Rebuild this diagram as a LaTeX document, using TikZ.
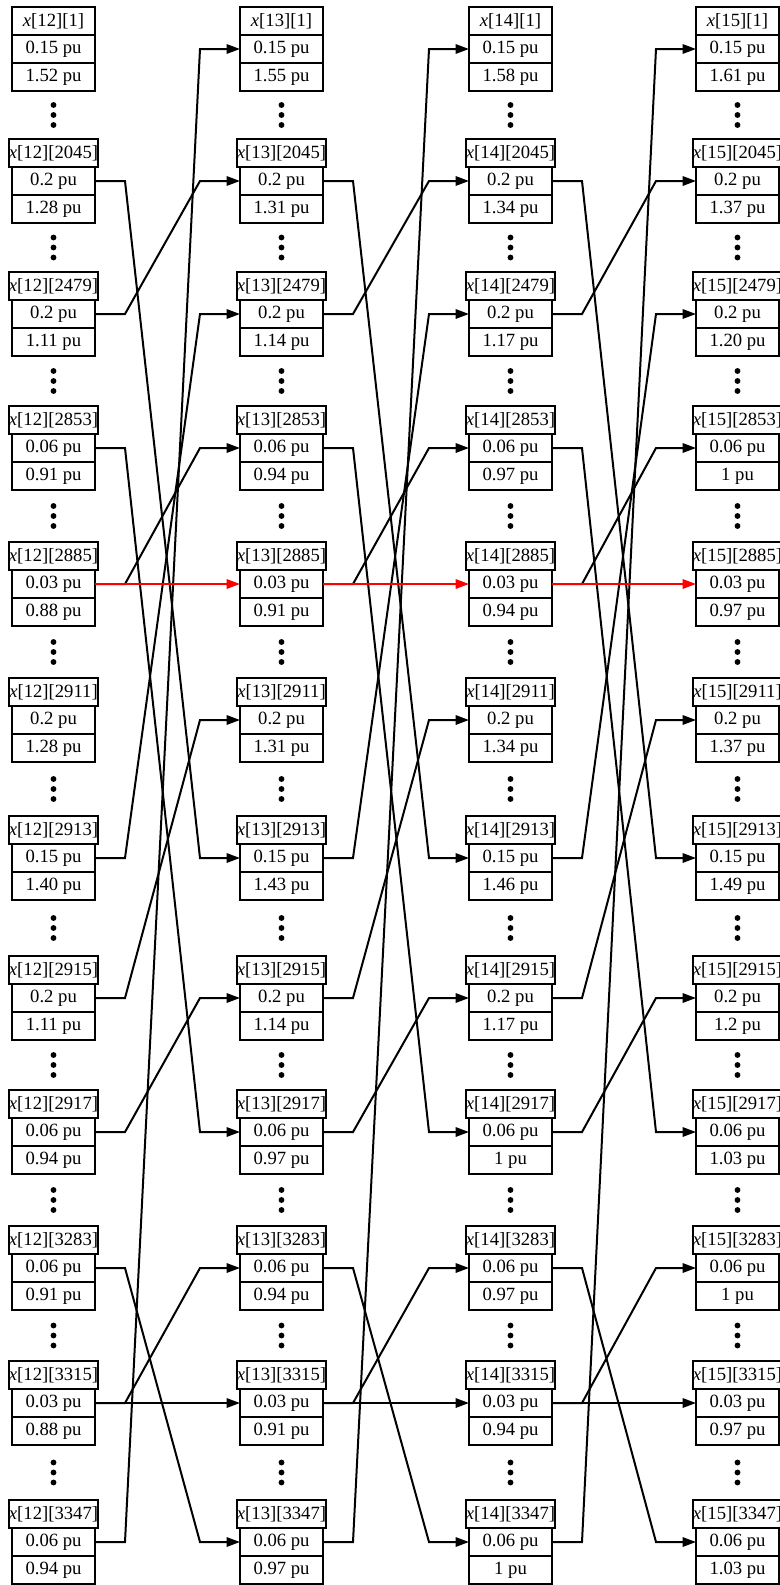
\documentclass[tikz,border=0pt]{standalone}
\usepackage{fontspec}
\setmainfont{Liberation Serif}
\usetikzlibrary{arrows.meta}

\tikzset{
  cell/.style={draw, line width=1.5pt, outer sep=0pt, inner sep=0pt,
    minimum width=62.25pt, minimum height=21pt, font=\fontsize{14}{16}\selectfont},
  link/.style={line width=1.5pt, -{Triangle[length=10pt,width=7pt]}}
}

\begin{document}
\begin{tikzpicture}[x=0.75pt,y=-0.75pt]
\useasboundingbox (0,0) rectangle (780,1585);
% state records: index / centre y / label / p / last row per column / dots y
\foreach \k/\cy/\n/\p/\qa/\qb/\qc/\qd/\dy in {
  0/49/1/0.15/1.52/1.55/1.58/1.61/115,
  1/181/2045/0.2/1.28/1.31/1.34/1.37/247.5,
  2/314/2479/0.2/1.11/1.14/1.17/1.20/381,
  3/448/2853/0.06/0.91/0.94/0.97/1/516,
  4/584/2885/0.03/0.88/0.91/0.94/0.97/652,
  5/720/2911/0.2/1.28/1.31/1.34/1.37/789,
  6/858/2913/0.15/1.40/1.43/1.46/1.49/928,
  7/998/2915/0.2/1.11/1.14/1.17/1.2/1065,
  8/1132/2917/0.06/0.94/0.97/1/1.03/1200,
  9/1268/3283/0.06/0.91/0.94/0.97/1/1335.5,
  10/1403/3315/0.03/0.88/0.91/0.94/0.97/1472.5,
  11/1542/3347/0.06/0.94/0.97/1/1.03/0}{
  \foreach \c/\cx/\q in {12/53.5/\qa,13/281.5/\qb,14/510.5/\qc,15/737.5/\qd}{
    \node[cell] (h\c-\k) at (\cx,\cy-28) {\textit{x}[\c][\n]};
    \node[cell] (p\c-\k) at (\cx,\cy) {\p\ pu};
    \node[cell] (q\c-\k) at (\cx,\cy+28) {\q\ pu};
    % dots
    \ifnum\k<11
      \foreach \e in {-10,0,10} \fill (\cx,\dy+\e) circle (2.2pt);
    \fi
  }
}
% transitions between time steps
\foreach \c [evaluate=\c as \nc using int(\c+1)] in {12,13,14}{
  \foreach \s/\t in {1/6,2/1,3/8,4/3,6/2,7/5,8/7,9/11,10/9,10/10,11/0}
    \draw[link] (p\c-\s.east) -- ++(30,0) -- ([xshift=-30pt]p\nc-\t.west) -- (p\nc-\t.west);
  \draw[link,red] (p\c-4.east) -- (p\nc-4.west);
}
\end{tikzpicture}
\end{document}
